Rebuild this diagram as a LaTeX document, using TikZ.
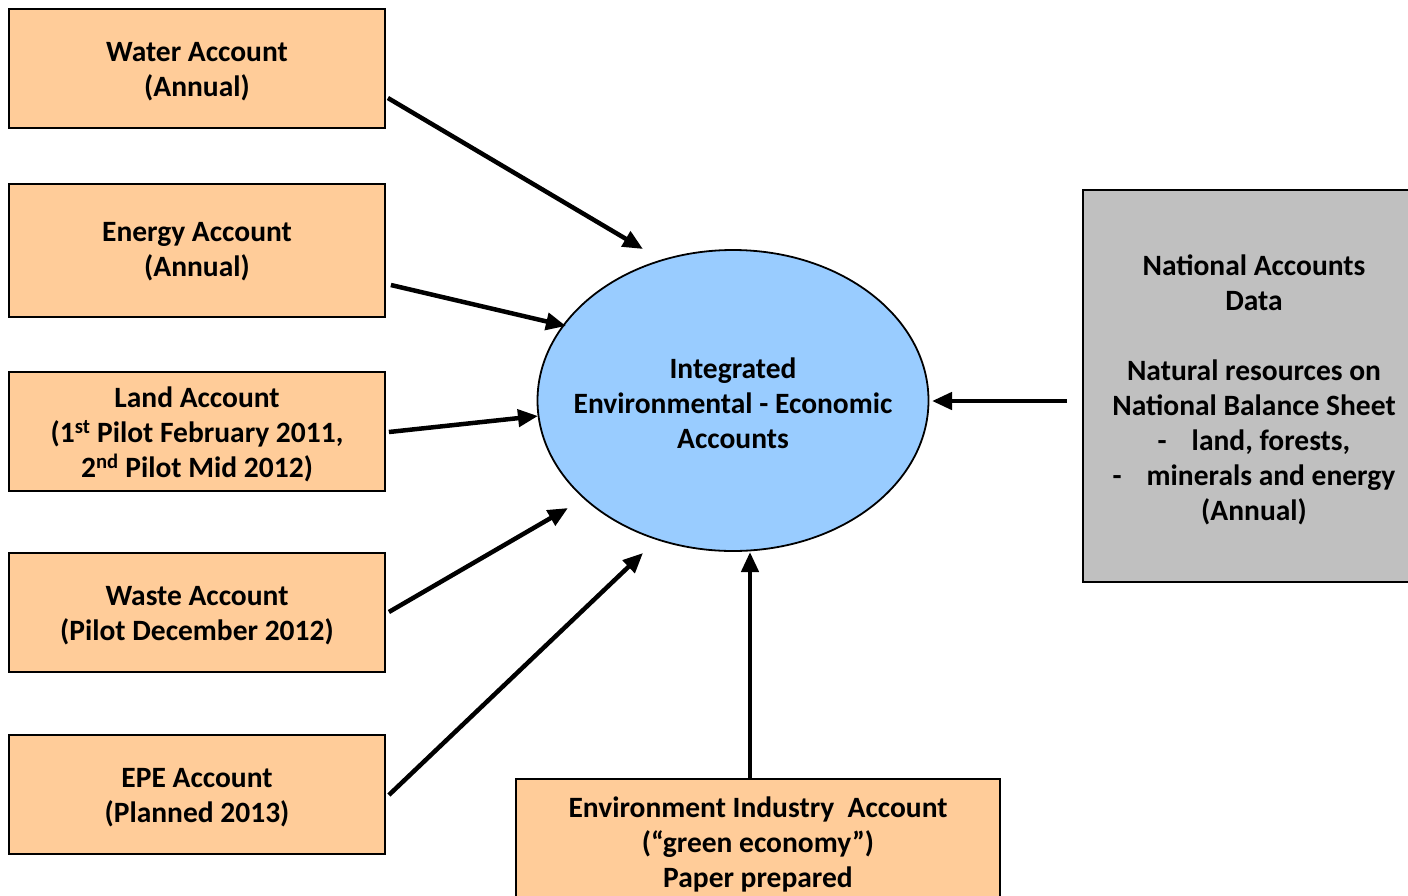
\documentclass[tikz,border=0pt]{standalone}
\usepackage{fontspec}
\setmainfont{Carlito}
\usetikzlibrary{arrows.meta,calc,shapes.geometric}
\definecolor{peach}{RGB}{255,204,153}
\definecolor{skyb}{RGB}{153,204,255}
\definecolor{greyb}{RGB}{192,192,192}
\begin{document}
\begin{tikzpicture}[x=1pt,y=-1pt,
  txt/.style={align=center,font=\fontsize{29.5}{35}\selectfont\bfseries,inner sep=0pt},
  box/.style={draw=black,line width=1.8pt,fill=peach,minimum width=376pt,minimum height=119pt,inner sep=0pt},
  arr/.style={line width=4.5pt,-{Triangle[length=20pt,width=17pt]}}]
\useasboundingbox (0,0) rectangle (1408,895);
\node[box] (water) at (197,68.5) {};
\node[txt] (waterT) at ($(water.center)+(0,3)$) {Water Account\\(Annual)};
\node[box,minimum height=133pt] (energy) at (197,250.5) {};
\node[txt] (energyT) at ($(energy.center)+(0,1)$) {Energy Account\\(Annual)};
\node[box] (land) at (197,431.5) {};
\node[txt] (landT) at ($(land.center)+(0,3)$) {Land Account\\(1\textsuperscript{st} Pilot February 2011,\\2\textsuperscript{nd} Pilot Mid 2012)};
\node[box] (waste) at (197,612.5) {};
\node[txt] (wasteT) at ($(waste.center)+(0,3)$) {Waste Account\\(Pilot December 2012)};
\node[box] (epe) at (197,794.5) {};
\node[txt] (epeT) at ($(epe.center)+(0,3)$) {EPE Account\\(Planned 2013)};
\node[box,minimum width=484pt,minimum height=124pt] (envind) at (758,841) {};
\node[txt] (envindT) at ($(envind.center)+(0,3)$) {Environment Industry\ \ Account\\(“green economy”)\\Paper prepared};
\node[draw=black,line width=1.8pt,fill=greyb,minimum width=342pt,minimum height=392pt,inner sep=0pt] (nat) at (1254,386) {};
\node[txt] (natT) at ($(nat.center)+(0,4)$)
  {National Accounts\\Data\\[35pt]Natural resources on\\National Balance Sheet\\-\hspace{25pt}land, forests,\\-\hspace{25pt}minerals and energy\\(Annual)};
\node[ellipse,draw=black,line width=1.8pt,fill=skyb,minimum width=391pt,minimum height=301pt,inner sep=0pt] (iee) at (733,400.5) {};
\node[txt] (ieeT) at ($(iee.center)+(0,3)$) {Integrated\\Environmental - Economic\\Accounts};
\draw[arr] ($(water.east)+(2,29.5)$) -- ($(iee.center)+(-90,-151.5)$);
\draw[arr] ($(energy.east)+(5,34.5)$) -- ($(iee.center)+(-167,-74.5)$);
\draw[arr] ($(land.east)+(3,0.5)$) -- ($(iee.center)+(-195,15.5)$);
\draw[arr] ($(waste.east)+(3,-0.5)$) -- ($(iee.center)+(-165,107.5)$);
\draw[arr] ($(epe.east)+(3,0.5)$) -- ($(iee.center)+(-90,152.5)$);
\draw[arr] ($(envind.north)+(-8,0)$) -- ($(iee.center)+(17,151.5)$);
\draw[arr] ($(nat.west)+(-15,15)$) -- ($(iee.center)+(199,0.5)$);
\end{tikzpicture}
\end{document}
